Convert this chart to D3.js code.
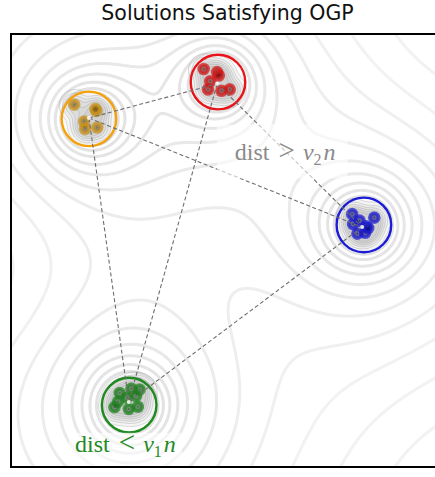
<!DOCTYPE html>
<html>
<head>
<meta charset="utf-8">
<script src="https://cdn.jsdelivr.net/npm/d3@7"></script>
<style>
  body { margin: 0; background: #fff; }
  svg { display: block; }
</style>
</head>
<body>
<div id="chart"></div>
<script>
// cluster data (data units, 0..10 both axes)
var clusterNames = ["orange", "red", "blue", "green"];
var clusterX = [1.80, 4.78, 8.15, 2.73];
var clusterY = [8.04, 8.89, 5.59, 1.43];
var hubX = [1.80, 4.76, 8.11, 2.72];
var hubY = [8.06, 8.85, 5.54, 1.50];
var nu1 = 0.63; // radius of the "dist < nu1 n" ball

// point offsets from the cluster centre
var orangeDX = [-0.34, 0.17, 0.15, -0.11, -0.09, 0.19];
var orangeDY = [0.33, 0.18, 0.23, -0.06, -0.23, -0.20];
var redDX = [-0.33, -0.02, 0.02, -0.18, -0.23, 0.08, 0.27];
var redDY = [0.30, 0.23, 0.15, 0.02, -0.17, -0.20, -0.17];
var blueDX = [-0.27, 0.24, -0.25, -0.10, 0.05, -0.15, 0.03, 0.10];
var blueDY = [0.25, 0.17, 0.02, 0.10, -0.03, -0.20, -0.18, -0.07];
var greenDX = [0.05, 0.24, -0.22, -0.26, -0.05, -0.34, -0.01, 0.20, 0.16];
var greenDY = [0.38, 0.36, 0.28, 0.08, 0.17, -0.05, -0.09, -0.04, 0.21];

// energy landscape: log-like wells at the clusters, gentle hills elsewhere
var wellA = [0.30, 0.30, 0.30, 0.30];
var wellR = [2.3, 1.8, 2.6, 3.0];
var hillX = [10.8, -0.6, 11.0, 5.6];
var hillY = [10.8, 4.7, -1.0, 3.6];
var hillA = [0.26, 0.18, 0.32, 0.08];
var hillS = [2.6, 1.7, 3.2, 1.6];

var svgWidth = 435;
var svgHeight = 477;
var plot = {left: 11, top: 34, size: 433};

var colors = {
  orange: {ring: "#f5a20a", base: "#c6901a", dark: "#6a4800"},
  red:    {ring: "#e8141a", base: "#cf1616", dark: "#6a0000"},
  blue:   {ring: "#1c1cd8", base: "#1a1acb", dark: "#00006a"},
  green:  {ring: "#1f8a1f", base: "#1f801f", dark: "#0c4a0c"}
};

var offsets = [[orangeDX, orangeDY], [redDX, redDY], [blueDX, blueDY], [greenDX, greenDY]];
var points = [];
clusterNames.forEach(function(name, c) {
  offsets[c][0].forEach(function(dx, i) {
    points.push({c: name, x: clusterX[c] + dx, y: clusterY[c] + offsets[c][1][i]});
  });
});

var xScale = d3.scaleLinear().domain([0, 10]).range([plot.left, plot.left + plot.size]);
var yScale = d3.scaleLinear().domain([0, 10]).range([plot.top + plot.size, plot.top]);

var svg = d3.select("#chart").append("svg")
  .attr("width", svgWidth)
  .attr("height", svgHeight);

var defs = svg.append("defs");
defs.append("clipPath").attr("id", "clip")
  .append("rect")
  .attr("x", plot.left).attr("y", plot.top)
  .attr("width", plot.size).attr("height", plot.size);

clusterNames.forEach(function(name) {
  var g = defs.append("radialGradient").attr("id", "grad-" + name);
  g.append("stop").attr("offset", "0%").attr("stop-color", colors[name].dark).attr("stop-opacity", 0.85);
  g.append("stop").attr("offset", "25%").attr("stop-color", colors[name].dark).attr("stop-opacity", 0.55);
  g.append("stop").attr("offset", "55%").attr("stop-color", colors[name].base);
  g.append("stop").attr("offset", "100%").attr("stop-color", colors[name].base).attr("stop-opacity", 0.7);
});

// field on a grid
var step = 1.5;
var x0 = 0, y0 = 20;
var nx = Math.ceil((svgWidth + 20) / step);
var ny = Math.ceil((svgHeight - 10) / step);

function landscape(x, y) {
  var v = 0;
  hillX.forEach(function(hx, k) {
    var d2 = (x - hx) * (x - hx) + (y - hillY[k]) * (y - hillY[k]);
    v += hillA[k] * Math.exp(-d2 / (2 * hillS[k] * hillS[k]));
  });
  clusterX.forEach(function(cx, k) {
    var d = Math.max(0.2, Math.sqrt((x - cx) * (x - cx) + (y - clusterY[k]) * (y - clusterY[k])));
    v -= wellA[k] * Math.log(1 + (wellR[k] / d) * (wellR[k] / d));
  });
  return v;
}
function density(x, y) {
  var v = 0, s = 0.17;
  points.forEach(function(p) {
    var d2 = (x - p.x) * (x - p.x) + (y - p.y) * (y - p.y);
    if (d2 < 1) v += Math.exp(-d2 / (2 * s * s));
  });
  return v;
}

var field = new Array(nx * ny);
var dens = new Array(nx * ny);
for (var j = 0; j < ny; j++) {
  for (var i = 0; i < nx; i++) {
    var dx = xScale.invert(x0 + i * step);
    var dy = yScale.invert(y0 + j * step);
    field[j * nx + i] = landscape(dx, dy);
    dens[j * nx + i] = density(dx, dy);
  }
}

var path = d3.geoPath(d3.geoIdentity().scale(step).translate([x0, y0]));
var ringColor = d3.scaleLinear().domain([-0.9, -0.1]).range(["#e2e2e2", "#f2f2f2"]).clamp(true);

var back = svg.append("g").attr("clip-path", "url(#clip)");
back.selectAll("path.ring")
  .data(d3.contours().size([nx, ny]).thresholds(d3.range(-1.2, 0.5, 0.1))(field))
  .enter().append("path")
  .attr("class", "ring")
  .attr("d", path)
  .attr("fill", "none")
  .attr("stroke", d => ringColor(d.value))
  .attr("stroke-width", 3);

// ball interiors
back.selectAll("circle.ball")
  .data(clusterNames)
  .enter().append("circle")
  .attr("class", "ball")
  .attr("cx", (d, i) => xScale(clusterX[i]))
  .attr("cy", (d, i) => yScale(clusterY[i]))
  .attr("r", xScale(nu1) - xScale(0))
  .attr("fill", "#fff")
  .attr("opacity", 0.9);

// fine contours around the solutions
back.selectAll("path.kde")
  .data(d3.contours().size([nx, ny]).thresholds([0.1, 0.25, 0.45, 0.7, 1.0, 1.4])(dens))
  .enter().append("path")
  .attr("class", "kde")
  .attr("d", path)
  .attr("fill", "#000")
  .attr("fill-opacity", 0.03)
  .attr("stroke", "#8a8a8a")
  .attr("stroke-opacity", 0.5)
  .attr("stroke-width", 0.6);

// solutions
back.selectAll("circle.sol")
  .data(points)
  .enter().append("circle")
  .attr("class", "sol")
  .attr("cx", d => xScale(d.x))
  .attr("cy", d => yScale(d.y))
  .attr("r", 6.3)
  .attr("fill", d => "url(#grad-" + d.c + ")")
  .attr("opacity", 0.9);

// ball outlines
back.selectAll("circle.ring")
  .data(clusterNames)
  .enter().append("circle")
  .attr("cx", (d, i) => xScale(clusterX[i]))
  .attr("cy", (d, i) => yScale(clusterY[i]))
  .attr("r", xScale(nu1) - xScale(0))
  .attr("fill", "none")
  .attr("stroke", d => colors[d].ring)
  .attr("stroke-width", 2.4);

// pairwise distances
var pairs = [];
for (var a = 0; a < hubX.length; a++) {
  for (var b = a + 1; b < hubX.length; b++) pairs.push([a, b]);
}
back.selectAll("line.pair")
  .data(pairs)
  .enter().append("line")
  .attr("x1", d => xScale(hubX[d[0]]))
  .attr("y1", d => yScale(hubY[d[0]]))
  .attr("x2", d => xScale(hubX[d[1]]))
  .attr("y2", d => yScale(hubY[d[1]]))
  .attr("stroke", "#6e6e6e")
  .attr("stroke-width", 1.1)
  .attr("stroke-dasharray", "4,2.5");

back.selectAll("circle.hub")
  .data(hubX)
  .enter().append("circle")
  .attr("cx", d => xScale(d))
  .attr("cy", (d, i) => yScale(hubY[i]))
  .attr("r", 2)
  .attr("fill", "#fff")
  .attr("opacity", 0.85);

// labels
function mathLabel(g, x, y, sub, rel, color) {
  var t = g.append("text")
    .attr("x", x).attr("y", y)
    .attr("font-family", "'Liberation Serif', 'DejaVu Serif', serif")
    .attr("font-size", 24)
    .attr("fill", color);
  t.append("tspan").text("dist");
  t.append("tspan").attr("dx", 9).attr("font-size", 29).text(rel);
  t.append("tspan").attr("dx", 8).attr("font-style", "italic").text("ν");
  t.append("tspan").attr("dy", 5).attr("font-size", 16).text(sub);
  t.append("tspan").attr("dy", -5).attr("dx", 2).attr("font-style", "italic").text("n");
  return t;
}

var farBox = back.append("rect");
var farText = mathLabel(back, xScale(5.17), yScale(7.08), "2", ">", "#8a8a8a");
var bb = farText.node().getBBox();
farBox.attr("x", bb.x - 18).attr("y", bb.y - 10)
  .attr("width", bb.width + 30).attr("height", bb.height + 20)
  .attr("fill", "#fff").attr("opacity", 0.6);

var nearBox = back.append("rect");
var nearText = mathLabel(back, xScale(1.48), yScale(0.35), "1", "<", "#1f8a1f");
var bb2 = nearText.node().getBBox();
nearBox.attr("x", bb2.x - 6).attr("y", bb2.y + 7)
  .attr("width", bb2.width + 12).attr("height", bb2.height)
  .attr("fill", "#fff").attr("opacity", 0.6);

// frame and title
svg.append("rect")
  .attr("x", plot.left).attr("y", plot.top)
  .attr("width", plot.size).attr("height", plot.size)
  .attr("fill", "none")
  .attr("stroke", "#000")
  .attr("stroke-width", 2);

svg.append("text")
  .attr("x", plot.left + plot.size / 2)
  .attr("y", 20)
  .attr("text-anchor", "middle")
  .attr("font-family", "'DejaVu Sans', sans-serif")
  .attr("font-size", 20.5)
  .attr("fill", "#111")
  .text("Solutions Satisfying OGP");
</script>
</body>
</html>
